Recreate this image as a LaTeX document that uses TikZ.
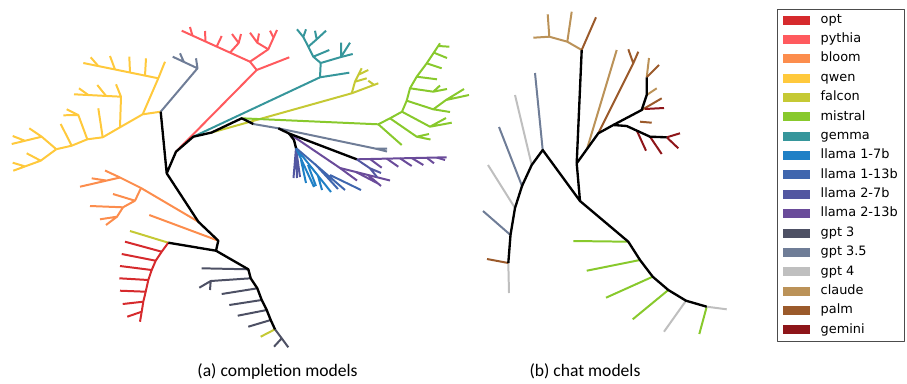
\documentclass[tikz,border=0pt]{standalone}
\usepackage{fontspec}
\newfontfamily\capfont{Carlito}
\newfontfamily\legfont{DejaVu Sans}
\usetikzlibrary{positioning}

\definecolor{copt}{HTML}{D62A2D}
\definecolor{cpythia}{HTML}{FF5A5E}
\definecolor{cbloom}{HTML}{FC8D4D}
\definecolor{cqwen}{HTML}{FFC93C}
\definecolor{cfalcon}{HTML}{C5C934}
\definecolor{cmistral}{HTML}{88C92C}
\definecolor{cgemma}{HTML}{36969B}
\definecolor{cllamaa}{HTML}{1F80C6}
\definecolor{cllamab}{HTML}{3F66AE}
\definecolor{cllamac}{HTML}{5257A1}
\definecolor{cllamad}{HTML}{6A4B9A}
\definecolor{cgpta}{HTML}{4D5064}
\definecolor{cgptb}{HTML}{6F7D97}
\definecolor{cgptc}{HTML}{BFBFBF}
\definecolor{cclaude}{HTML}{BB9258}
\definecolor{cpalm}{HTML}{9B5A2B}
\definecolor{cgemini}{HTML}{8E1519}

\begin{document}
\begin{tikzpicture}
    [x=0.03cm, y=-0.03cm, line join=round,
    % STYLES
    % The br style is used for the coloured branches of both trees
    br/.style={line width=1.7pt},
    % The trunk style is used for the black inner edges
    trunk/.style={line width=2pt, black},
    % The capt style is used for the captions under the trees
    capt/.style={font=\capfont\fontsize{15}{18}\selectfont},
    % The swatch and entry styles are used to draw the legend
    swatch/.style={rectangle, minimum width=0.81cm, minimum height=0.27cm, inner sep=0pt, outer sep=0pt},
    entry/.style={inner sep=0pt, outer sep=0pt, text height=8pt, text depth=2.5pt, font=\legfont\fontsize{11}{13}\selectfont}]

    \useasboundingbox (0,0) rectangle (907,383);

    % Tree (a): inner points
    \coordinate (a0) at (160.7,111.7);
    \coordinate (a1) at (166.7,173.3);
    \coordinate (a2) at (176,151.7);
    \coordinate (a3) at (193.3,136.7);
    \coordinate (a4) at (211.7,132.5);
    \coordinate (a5) at (241.7,118.3);
    \coordinate (a6) at (253.3,124);
    \coordinate (a7) at (278.3,128.3);
    \coordinate (a8) at (198.3,221.7);
    \coordinate (a9) at (218.3,240.7);
    \coordinate (a10) at (216,250.7);
    \coordinate (a11) at (168.3,242.7);
    \coordinate (l0) at (289,133.5);
    \coordinate (l1) at (356.7,159.3);
    \coordinate (l2) at (296,148);
    \coordinate (s0) at (248.3,269.3);
    \coordinate (s1) at (250.7,278.3);
    \coordinate (s2) at (257.3,288.3);
    \coordinate (s3) at (261.7,300);
    \coordinate (s4) at (266.7,310);
    \coordinate (s5) at (270.7,320);
    \coordinate (s6) at (275,329.3);

    % qwen
    \coordinate (q1) at (142.7,114.3);
    \coordinate (q2) at (158.3,78.3);
    \coordinate (q3) at (120,127.3);
    \coordinate (q4) at (121,96.7);
    \coordinate (q5) at (102.7,137.3);
    \coordinate (q6) at (87.3,139.3);
    \coordinate (q7) at (71.7,145.7);
    \coordinate (q8) at (56.3,149.2);
    \coordinate (q9) at (41.7,136.7);
    \coordinate (q10) at (40.7,160.7);
    \coordinate (q11) at (78.3,115);
    \draw[br, cqwen] (a0) -- (q1) -- (q3) -- (q5) -- (q6) -- (q7) -- (q8);
    \draw[br, cqwen] (q1) -- (q2) -- (165,61.7);
    \draw[br, cqwen] (q2) -- (83.3,63);
    \draw[br, cqwen] (145,75.6) -- (146,58.3) (130,72.5) -- (129.3,56.7)
        (115,69.5) -- (110,56) (98.3,66.1) -- (90.7,57.3);
    \draw[br, cqwen] (q3) -- (q4) -- (74,94.3) (q4) -- (116,84.3);
    \draw[br, cqwen] (88.3,95) -- (79,88.3) (106,95.9) -- (97.3,85);
    \draw[br, cqwen] (q5) -- (98.3,108.3);
    \draw[br, cqwen] (q6) -- (q11) -- (63.3,115.3) (q11) -- (66.7,109.3);
    \draw[br, cqwen] (q7) -- (60.7,124);
    \draw[br, cqwen] (q8) -- (q9) -- (11.7,144) (q9) -- (29.3,128.3) (25,140.8) -- (12.7,136);
    \draw[br, cqwen] (q8) -- (q10) -- (13.3,170.7) (q10) -- (26.7,153.3) (25,166.4) -- (12.7,162.7);

    % gpt 3.5 (top)
    \coordinate (h1) at (197.5,68.3);
    \draw[br, cgptb] (a0) -- (h1) -- (196,58.3) (h1) -- (172.7,56.7) (184,62.3) -- (180,53.3);

    % pythia
    \coordinate (p1) at (256.7,70);
    \coordinate (p2) at (250,61.7);
    \coordinate (p3) at (268.3,49.3);
    \coordinate (p4) at (257.3,42.7);
    \coordinate (p5) at (238.7,43);
    \draw[br, cpythia] (a2) -- (p1) -- (289.3,57.3) (p1) -- (p2) -- (p3) -- (277,30);
    \draw[br, cpythia] (273.5,37.5) -- (270,30.7);
    \draw[br, cpythia] (p3) -- (p4) -- (250,32.7) (p4) -- (259,33.5);
    \draw[br, cpythia] (p2) -- (181.7,30.7);
    \draw[br, cpythia] (230,52.6) -- (p5) -- (232,34) (p5) -- (241,34);
    \draw[br, cpythia] (216.7,46.5) -- (221.7,36) (205.5,41.6) -- (205,31) (192.3,35.2) -- (190,27);

    % gemma
    \coordinate (e1) at (320,77.3);
    \coordinate (e2) at (320.7,63);
    \coordinate (e3) at (341,57);
    \coordinate (e4) at (313.3,56.7);
    \coordinate (e5) at (308.3,46.7);
    \coordinate (e6) at (303.3,37);
    \coordinate (e7) at (316.7,39.3);
    \draw[br, cgemma] (a3) -- (e1) -- (349.3,72.7) (e1) -- (e2) -- (e3) -- (352.7,54);
    \draw[br, cgemma] (e3) -- (350,42.7) (e3) -- (341,42.7);
    \draw[br, cgemma] (e2) -- (e4) -- (329.3,50) (e4) -- (e5) -- (e6) -- (297,29.3) (e6) -- (306,29.3);
    \draw[br, cgemma] (e5) -- (e7) -- (315,30.7) (e7) -- (326,30.7);

    % falcon
    \coordinate (f1) at (351.7,93.3);
    \coordinate (f2) at (355,81.7);
    \draw[br, cfalcon] (a4) -- (f1) -- (378.3,83.3) (374,84.8) -- (368.3,80.7);
    \draw[br, cfalcon] (f1) -- (f2) -- (361.7,68.3) (f2) -- (366.7,78.3) (358.5,74.7) -- (368.3,70);

    % mistral
    \coordinate (m0) at (378.3,124.3);
    \coordinate (m1) at (390,118.3);
    \coordinate (m2) at (402,111.7);
    \coordinate (m3) at (406.7,100.7);
    \coordinate (m4) at (410,88.3);
    \coordinate (m5) at (416.7,76.7);
    \coordinate (m6) at (426.7,63.3);
    \coordinate (n1) at (416.7,136.7);
    \coordinate (n2) at (430,126.7);
    \coordinate (n3) at (433.3,109.3);
    \coordinate (n4) at (433.3,91.7);
    \coordinate (n5) at (446,100);
    \draw[br, cmistral] (a5) -- (m0) -- (401.7,145);
    \draw[br, cmistral] (m0) -- (m1) -- (m2) -- (m3) -- (m4) -- (m5) -- (m6) -- (440,43.3);
    \draw[br, cmistral] (433.5,52.5) -- (447,58) (438.5,46) -- (449.3,46.7);
    \draw[br, cmistral] (m1) -- (n1) -- (430.5,139.5) (n1) -- (429,134);
    \draw[br, cmistral] (m2) -- (n2) -- (451.7,122.7) (n2) -- (446,118);
    \draw[br, cmistral] (m3) -- (n3) -- (450,112) (n3) -- (n5) -- (469,95) (n5) -- (464,89);
    \draw[br, cmistral] (m4) -- (n4) -- (447,89) (n4) -- (440,85.5);
    \draw[br, cmistral] (m5) -- (437,79.3) (m6) -- (441.7,68.3);

    % gpt 3.5 (long leaf)
    \coordinate (h2) at (375,148.5);
    \draw[br, cgptb] (a6) -- (a7) -- (h2) -- (387,148.5) (h2) -- (387,151.5);

    % llama
    \draw[br, cllamad] (l0) -- (340,168) -- (390,180.5);
    \draw[br, cllamad] (340,168) -- (357,180.5) (356,172) -- (378,183.5) (368,175) -- (381,186);
    \draw[br, cllamad] (l1) -- (446.7,157.3);
    \draw[br, cllamad] (370,159) -- (381.7,167.7) (386.7,158.6) -- (398.3,166.7) (400,158.3) -- (411.7,166)
        (411.7,158) -- (423.3,165) (426.7,157.7) -- (434,163.3) (436.7,157.5) -- (445,160);
    \draw[br, cllamac] (l1) -- (370,168.3) -- (381,173) (370,168.3) -- (377,177);
    \draw[br, cllamac] (l2) -- (293.5,178) (l2) -- (297,178) (l2) -- (300,177);
    \draw[br, cllamaa] (l2) -- (314,187) (301,160) -- (306,183) (l2) -- (331,192)
        (308,165) -- (316,186) (318,176) -- (322,190);
    \draw[br, cllamab] (l2) -- (345,190) (315,164) -- (338,189) (330,175) -- (361,190);
    \draw[trunk] (a7) -- (l0) -- (l1);
    \draw[trunk] (l0) -- (294,140) -- (l2);

    % bloom
    \coordinate (b1) at (141,188);
    \coordinate (b2) at (135,200.7);
    \coordinate (b3) at (123,207.3);
    \coordinate (b4) at (117,216.7);
    \coordinate (b5) at (120,177.5);
    \draw[br, cbloom] (a8) -- (b1) -- (b5) -- (105,170.5);
    \draw[br, cbloom] (b1) -- (b2) -- (113,194) (b2) -- (b3) -- (90,206) (b3) -- (b4) -- (100,219.3) (b4) -- (106,225);
    \draw[br, cbloom] (b5) -- (80,186.7) (106.5,180.6) -- (91.7,178.3);
    \draw[br, cbloom] (a9) -- (149.3,215);

    % falcon and opt
    \draw[br, cfalcon] (a11) -- (130,231);
    \coordinate (o1) at (161.7,251.7);
    \coordinate (o2) at (155.7,260.7);
    \coordinate (o3) at (151.7,270);
    \coordinate (o4) at (148.3,280);
    \coordinate (o5) at (145.7,291.7);
    \coordinate (o6) at (143.3,301.7);
    \coordinate (o7) at (141.7,311.7);
    \draw[br, copt] (a11) -- (o1) -- (o2) -- (o3) -- (o4) -- (o5) -- (o6) -- (o7) -- (140,321.7);
    \draw[br, copt] (o1) -- (125,241.7) (o2) -- (121.7,254) (o3) -- (120,266) (o4) -- (119.3,278.3)
        (o5) -- (120,290.7) (o6) -- (122.7,304) (o7) -- (127.3,316.7);

    % gpt 3
    \coordinate (g1) at (210.7,281);
    \coordinate (g2) at (281.7,338.3);
    \draw[br, cgpta] (s0) -- (201.7,268.3) (s1) -- (g1) -- (199.3,287.7) (g1) -- (210,290);
    \draw[br, cgpta] (s2) -- (221.7,294) (s3) -- (229.3,305) (s4) -- (237.7,315.7) (s5) -- (248.3,326.7);
    \draw[br, cfalcon] (s6) -- (260.7,336.7);
    \draw[br, cgpta] (s6) -- (g2) -- (274,346.7) (g2) -- (288.3,347.3);

    % black backbone of (a)
    \draw[trunk] (a0) -- (a1) -- (a2) -- (a3) -- (a4) -- (a5) -- (a6);
    \draw[trunk] (a1) -- (a8) -- (a9) -- (a10) -- (a11);
    \draw[trunk] (a10) -- (s0) -- (s1) -- (s2) -- (s3) -- (s4) -- (s5) -- (s6);

    % Tree (b): inner points
    \coordinate (r0) at (542.7,150);
    \coordinate (r1) at (580,201);
    \coordinate (r2) at (576.7,163.3);
    \coordinate (r3) at (598.3,133.3);
    \coordinate (r4) at (613.3,125);
    \coordinate (r5) at (626.7,126);
    \coordinate (r6) at (650,136.7);
    \coordinate (r7) at (666.7,137.3);
    \coordinate (r8) at (641.7,110);
    \coordinate (r9) at (646.7,95);
    \coordinate (r10) at (646.7,77.3);
    \coordinate (c1) at (581.7,50);
    \coordinate (c2) at (567.3,41.7);
    \coordinate (c3) at (549.3,36.7);
    \coordinate (k1) at (531.7,165);
    \coordinate (k2) at (522,186);
    \coordinate (k3) at (515,208);
    \coordinate (k4) at (510.5,235);
    \coordinate (k5) at (508.3,263);
    \coordinate (u0) at (628.3,241.7);
    \coordinate (u1) at (640,260);
    \coordinate (u2) at (652.7,276.7);
    \coordinate (u3) at (668.3,290);
    \coordinate (u4) at (686,300.7);
    \coordinate (u5) at (706.7,306.7);

    % left side of (b)
    \draw[br, cgptb] (r0) -- (535,73) (k2) -- (499,127) (k4) -- (483,211);
    \draw[br, cgptc] (k1) -- (515,95) (k3) -- (488,165) (k5) -- (509,293);
    \draw[br, cpalm] (k5) -- (487,259);

    % upper right of (b)
    \draw[br, cclaude] (c1) -- (c2) -- (c3) -- (533.3,37.7) (c2) -- (571.7,11.7) (c3) -- (547.7,14.3);
    \draw[br, cpalm] (c1) -- (596,17.3);
    \draw[br, cclaude] (587,149) -- (616.7,50);
    \coordinate (w0) at (633.3,63.3);
    \draw[br, cpalm] (r3) -- (w0) -- (628.3,49.3) (w0) -- (638.3,51.7);
    \draw[br, cclaude] (r10) -- (649,58) (r9) -- (656.7,88.3);
    \draw[br, cpalm] (r10) -- (659,65) (r8) -- (661.7,98.3) (640,121.7) -- (651.7,122.7);
    \draw[br, cgemini] (645,109) -- (664,108);
    \draw[br, cgemini] (637,131) -- (646,150.7) (r6) -- (661.7,154) (r7) -- (678.3,148.3) (r7) -- (680,133.3);

    % lower right of (b)
    \draw[br, cmistral] (u0) -- (573.3,241) (u1) -- (586.7,270.7) (u2) -- (606,297.7) (u3) -- (632.7,319.3) (u5) -- (699.3,334);
    \draw[br, cgptc] (u4) -- (664,331.7) (u5) -- (726.7,309.3);

    % black backbone of (b)
    \draw[trunk] (k5) -- (k4) -- (k3) -- (k2) -- (k1) -- (r0) -- (r1) -- (r2) -- (c1);
    \draw[trunk] (r2) -- (r3) -- (r4) -- (r5) -- (r6) -- (r7);
    \draw[trunk] (r4) -- (r8) -- (r9) -- (r10);
    \draw[trunk] (r1) -- (u0) -- (u1) -- (u2) -- (u3) -- (u4) -- (u5);

    % Captions
    \node[capt] (capa) at (277.5,371) {(a) completion models};
    \node[capt] (capb) at (585,371) {(b) chat models};

    % Legend
    \draw[black!70, line width=0.6pt] (777.5,9.5) rectangle (904.5,341.5);
    \node[swatch, fill=copt] (w1) at (796.5,20) {};
    \node[swatch, fill=cpythia, below=0.311cm of w1] (w2) {};
    \node[swatch, fill=cbloom, below=0.311cm of w2] (w3) {};
    \node[swatch, fill=cqwen, below=0.311cm of w3] (w4) {};
    \node[swatch, fill=cfalcon, below=0.311cm of w4] (w5) {};
    \node[swatch, fill=cmistral, below=0.311cm of w5] (w6) {};
    \node[swatch, fill=cgemma, below=0.311cm of w6] (w7) {};
    \node[swatch, fill=cllamaa, below=0.311cm of w7] (w8) {};
    \node[swatch, fill=cllamab, below=0.311cm of w8] (w9) {};
    \node[swatch, fill=cllamac, below=0.311cm of w9] (w10) {};
    \node[swatch, fill=cllamad, below=0.311cm of w10] (w11) {};
    \node[swatch, fill=cgpta, below=0.311cm of w11] (w12) {};
    \node[swatch, fill=cgptb, below=0.311cm of w12] (w13) {};
    \node[swatch, fill=cgptc, below=0.311cm of w13] (w14) {};
    \node[swatch, fill=cclaude, below=0.311cm of w14] (w15) {};
    \node[swatch, fill=cpalm, below=0.311cm of w15] (w16) {};
    \node[swatch, fill=cgemini, below=0.311cm of w16] (w17) {};
    \node[entry, right=0.32cm of w1] (t1) {opt};
    \node[entry, right=0.32cm of w2] (t2) {pythia};
    \node[entry, right=0.32cm of w3] (t3) {bloom};
    \node[entry, right=0.32cm of w4] (t4) {qwen};
    \node[entry, right=0.32cm of w5] (t5) {falcon};
    \node[entry, right=0.32cm of w6] (t6) {mistral};
    \node[entry, right=0.32cm of w7] (t7) {gemma};
    \node[entry, right=0.32cm of w8] (t8) {llama 1-7b};
    \node[entry, right=0.32cm of w9] (t9) {llama 1-13b};
    \node[entry, right=0.32cm of w10] (t10) {llama 2-7b};
    \node[entry, right=0.32cm of w11] (t11) {llama 2-13b};
    \node[entry, right=0.32cm of w12] (t12) {gpt 3};
    \node[entry, right=0.32cm of w13] (t13) {gpt 3.5};
    \node[entry, right=0.32cm of w14] (t14) {gpt 4};
    \node[entry, right=0.32cm of w15] (t15) {claude};
    \node[entry, right=0.32cm of w16] (t16) {palm};
    \node[entry, right=0.32cm of w17] (t17) {gemini};
\end{tikzpicture}
\end{document}
